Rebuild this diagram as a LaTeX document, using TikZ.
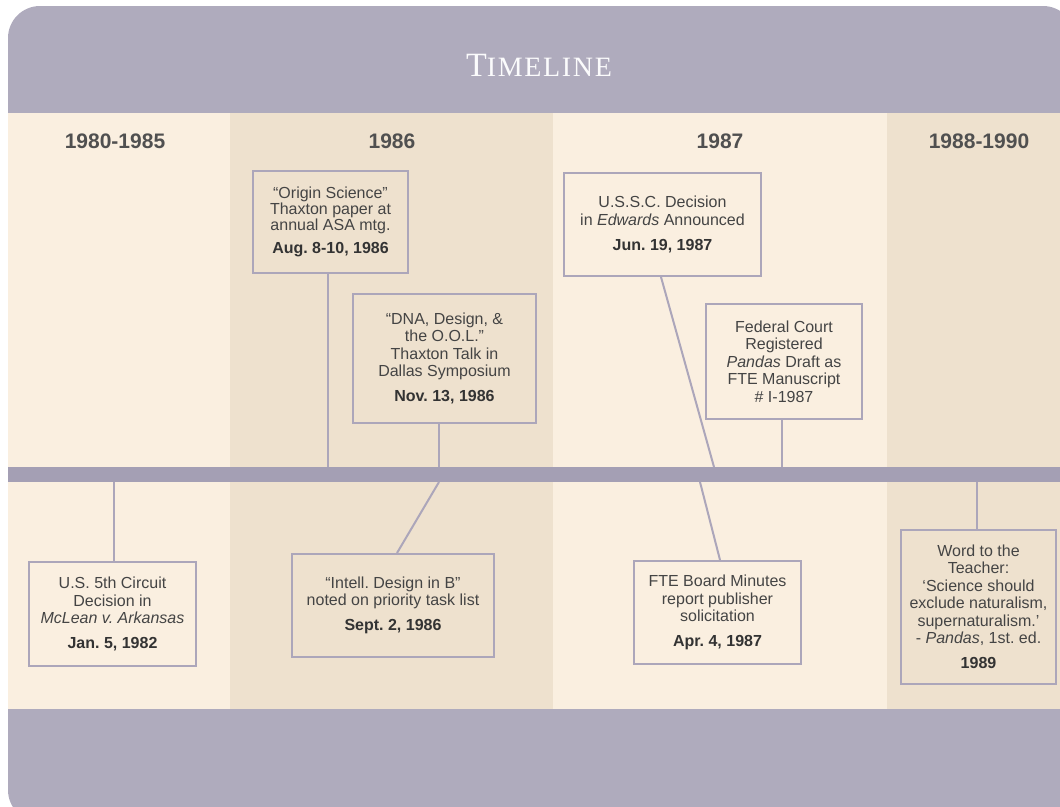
\documentclass[tikz,border=0pt]{standalone}
\usepackage{fontspec}
\setmainfont{Liberation Sans}
\newfontfamily\titlefont[LetterSpace=6]{Liberation Serif}
\definecolor{hdr}{RGB}{175,171,189}
\definecolor{beigeL}{RGB}{250,239,224}
\definecolor{beigeD}{RGB}{238,225,206}
\definecolor{barc}{RGB}{164,159,180}
\definecolor{boxc}{RGB}{172,166,186}
\definecolor{txt}{RGB}{68,68,68}
\definecolor{yearc}{RGB}{80,80,80}
\tikzset{
  evbox/.style={draw=boxc, line width=2pt, align=center, inner sep=0pt, text=txt,
    font=\fontsize{16}{17.5}\selectfont},
  conn/.style={draw=boxc, line width=2pt},
  yearlbl/.style={anchor=base, text=yearc, font=\fontsize{21}{21}\selectfont\bfseries},
}
\newcommand{\dt}[1]{\\[7.5pt]\textbf{\color{black!80}#1}}
\frenchspacing
\begin{document}
\begin{tikzpicture}[x=1pt,y=-1pt]
\useasboundingbox (0,0) rectangle (1060,806);
\begin{scope}
\clip (0,0) rectangle (1060,806);
\fill[hdr, rounded corners=32pt] (8,6) rectangle (1075,822);
\fill[beigeL] (8,113) rectangle (230,709);
\fill[beigeD] (230,113) rectangle (553,709);
\fill[beigeL] (553,113) rectangle (887,709);
\fill[beigeD] (887,113) rectangle (1060,709);
\end{scope}
\fill[barc] (8,467) rectangle (1060,482);

\node[anchor=base, text=white!95!hdr] (title) at (539,76.5)
  {\titlefont\fontsize{34}{34}\selectfont T\fontsize{28}{28}\selectfont IMELINE};

\node[yearlbl] (y1) at (115,148) {1980-1985};
\node[yearlbl] (y2) at (392,148) {1986};
\node[yearlbl] (y3) at (720,148) {1987};
\node[yearlbl] (y4) at (979,148) {1988-1990};

% upper boxes
\node[evbox, minimum width=155pt, minimum height=102pt, font=\fontsize{16}{16}\selectfont] (origin) at (330.5,222)
  {“Origin Science”\\Thaxton paper at\\annual ASA mtg.\dt{Aug. 8-10, 1986}};
\node[evbox, minimum width=183pt, minimum height=129pt] (dna) at (444.5,358.5)
  {“DNA, Design, \&\\the O.O.L.”\\Thaxton Talk in\\Dallas Symposium\dt{Nov. 13, 1986}};
\node[evbox, minimum width=197pt, minimum height=103pt] (ussc) at (662.5,224.5)
  {U.S.S.C. Decision\\in \textit{Edwards} Announced\dt{Jun. 19, 1987}};
\node[evbox, minimum width=156pt, minimum height=115pt] (fed) at (784,361.5)
  {Federal Court\\Registered\\\textit{Pandas} Draft as\\FTE Manuscript\\\# I-1987};

% lower boxes
\node[evbox, minimum width=167pt, minimum height=104pt] (mclean) at (112.5,614)
  {U.S. 5th Circuit\\Decision in\\\textit{McLean v. Arkansas}\dt{Jan. 5, 1982}};
\node[evbox, minimum width=202pt, minimum height=103pt] (intell) at (393,605.5)
  {“Intell. Design in B”\\noted on priority task list\dt{Sept. 2, 1986}};
\node[evbox, minimum width=167pt, minimum height=103pt] (fte) at (717.5,612.5)
  {FTE Board Minutes\\report publisher\\solicitation\dt{Apr. 4, 1987}};
\node[evbox, minimum width=155pt, minimum height=154pt] (word) at (978.5,607)
  {Word to the\\Teacher:\\‘Science should\\exclude naturalism,\\supernaturalism.’\\- \textit{Pandas}, 1st. ed.\dt{1989}};

% contact points on the bar
\coordinate (p1) at (328,467);
\coordinate (p2) at (439,467);
\coordinate (p3) at (714,467);
\coordinate (p4) at (782,467);
\coordinate (q1) at (114,482);
\coordinate (q2) at (439,482);
\coordinate (q3) at (700,482);
\coordinate (q4) at (977,482);

\draw[conn] (origin.south -| p1) -- (p1);
\draw[conn] (dna.south -| p2) -- (p2);
\draw[conn] ([xshift=-1.5pt]ussc.south) -- (p3);
\draw[conn] (fed.south -| p4) -- (p4);
\draw[conn] (q1) -- (mclean.north -| q1);
\draw[conn] (q2) -- ([xshift=4pt]intell.north);
\draw[conn] (q3) -- ([xshift=2.5pt]fte.north);
\draw[conn] (q4) -- (word.north -| q4);
\end{tikzpicture}
\end{document}
